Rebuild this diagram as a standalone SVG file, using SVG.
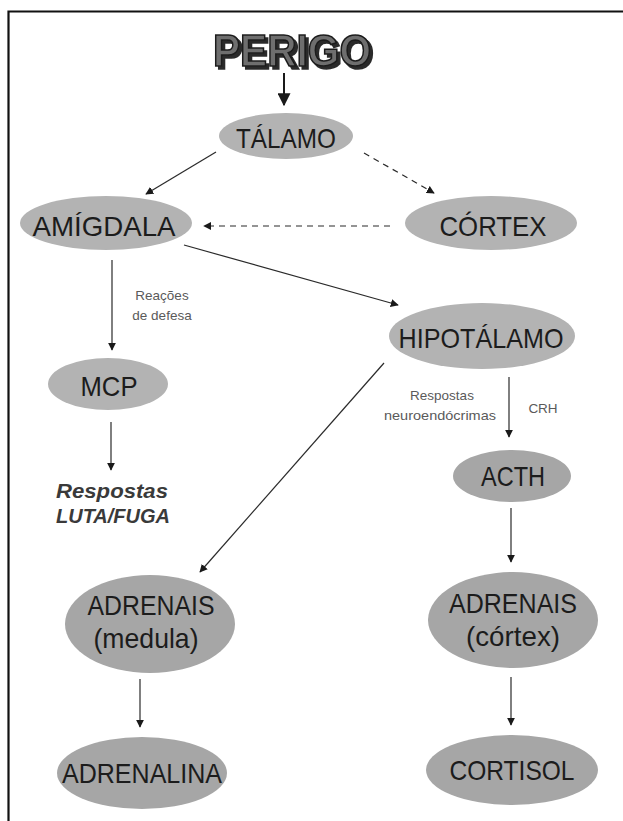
<svg xmlns="http://www.w3.org/2000/svg" width="623" height="821" viewBox="0 0 623 821">
<defs>
<style>
.n1{fill:#b3b3b3;}
.n2{fill:#a6a6a6;}
.lbl{font-family:"Liberation Sans",Arial,sans-serif;font-size:28px;fill:#1c1c1c;text-anchor:middle;}
.sm{font-family:"Liberation Sans",Arial,sans-serif;font-size:13.5px;fill:#5a5a5a;text-anchor:middle;}
.lf{font-family:"Liberation Sans",Arial,sans-serif;font-size:21px;font-weight:bold;font-style:italic;fill:#3a3a3a;}
.c{stroke:#2a2a2a;stroke-width:1.2;fill:none;marker-end:url(#ah);}
.d{stroke-dasharray:6 5;}
</style>
<marker id="ah" viewBox="0 0 10 10" refX="9" refY="5" markerWidth="8" markerHeight="8" markerUnits="userSpaceOnUse" orient="auto">
<path d="M0,0 L10,5 L0,10 z" fill="#1a1a1a"/>
</marker>
<marker id="ahb" viewBox="0 0 10 10" refX="9" refY="5" markerWidth="13" markerHeight="13" markerUnits="userSpaceOnUse" orient="auto">
<path d="M0,0 L10,5 L0,10 z" fill="#1a1a1a"/>
</marker>
<filter id="sh" x="-10%" y="-20%" width="120%" height="140%">
<feOffset in="SourceAlpha" dx="2.5" dy="2.5" result="o"/>
<feFlood flood-color="#2a2a2a"/>
<feComposite in2="o" operator="in" result="s"/>
<feMerge><feMergeNode in="s"/><feMergeNode in="SourceGraphic"/></feMerge>
</filter>
</defs>
<rect width="623" height="821" fill="#ffffff"/>
<path d="M8.5,821 L8.5,11.5 L623,11.5" fill="none" stroke="#111" stroke-width="2.2"/>

<g id="perigo">
<text x="292" y="66" font-family="'Liberation Sans',Arial,sans-serif" font-size="44" font-weight="bold" text-anchor="middle" textLength="158" lengthAdjust="spacingAndGlyphs" fill="#6e6e6e" stroke="#1a1a1a" stroke-width="1.6" filter="url(#sh)">PERIGO</text>
</g>

<g id="connectors">
<line x1="284" y1="73" x2="284" y2="105" stroke="#1a1a1a" stroke-width="2" marker-end="url(#ahb)"/>
<line class="c" x1="216" y1="152" x2="146" y2="194"/>
<line class="c d" x1="364" y1="153" x2="434" y2="193"/>
<line class="c d" x1="390" y1="226" x2="204" y2="226"/>
<line class="c" x1="184" y1="245" x2="398" y2="305"/>
<line class="c" x1="112" y1="260" x2="112" y2="350"/>
<line class="c" x1="111" y1="422" x2="111" y2="470"/>
<line class="c" x1="384" y1="363" x2="200" y2="572"/>
<line class="c" x1="509" y1="377" x2="509" y2="437"/>
<line class="c" x1="511" y1="508" x2="511" y2="562"/>
<line class="c" x1="140" y1="679" x2="140" y2="727"/>
<line class="c" x1="511" y1="677" x2="511" y2="725"/>
<text class="sm" x="162" y="300">Reações</text>
<text class="sm" x="162" y="320">de defesa</text>
<text class="sm" x="442" y="400">Respostas</text>
<text class="sm" x="440" y="420" textLength="112" lengthAdjust="spacingAndGlyphs">neuroendócrimas</text>
<text class="sm" x="543" y="413">CRH</text>
</g>

<g id="talamo">
<ellipse class="n1" cx="286" cy="136" rx="67" ry="23"/>
<text class="lbl" x="286" y="148" textLength="100" lengthAdjust="spacingAndGlyphs">TÁLAMO</text>
</g>
<g id="amigdala">
<ellipse class="n1" cx="106" cy="223" rx="86" ry="27"/>
<text class="lbl" x="104" y="236" textLength="143" lengthAdjust="spacingAndGlyphs">AMÍGDALA</text>
</g>
<g id="cortex">
<ellipse class="n1" cx="491" cy="223" rx="86" ry="27"/>
<text class="lbl" x="493" y="236" textLength="107" lengthAdjust="spacingAndGlyphs">CÓRTEX</text>
</g>
<g id="hipotalamo">
<ellipse class="n1" cx="482" cy="336" rx="93" ry="33"/>
<text class="lbl" x="481" y="348" textLength="165" lengthAdjust="spacingAndGlyphs">HIPOTÁLAMO</text>
</g>
<g id="mcp">
<ellipse class="n1" cx="108" cy="384" rx="60" ry="26"/>
<text class="lbl" x="109" y="396" textLength="57" lengthAdjust="spacingAndGlyphs">MCP</text>
</g>
<g id="respostas-luta-fuga">
<text class="lf" x="56" y="498" textLength="112" lengthAdjust="spacingAndGlyphs">Respostas</text>
<text class="lf" x="56" y="523" textLength="114" lengthAdjust="spacingAndGlyphs">LUTA/FUGA</text>
</g>
<g id="acth">
<ellipse class="n2" cx="512" cy="476" rx="59" ry="26"/>
<text class="lbl" x="513" y="486" textLength="64" lengthAdjust="spacingAndGlyphs">ACTH</text>
</g>
<g id="adrenais-medula">
<ellipse class="n2" cx="150" cy="624" rx="85" ry="49"/>
<text class="lbl" x="151" y="615" textLength="127" lengthAdjust="spacingAndGlyphs">ADRENAIS</text>
<text class="lbl" x="146" y="648" textLength="105" lengthAdjust="spacingAndGlyphs">(medula)</text>
</g>
<g id="adrenais-cortex">
<ellipse class="n2" cx="513" cy="620" rx="85" ry="48"/>
<text class="lbl" x="513" y="613" textLength="128" lengthAdjust="spacingAndGlyphs">ADRENAIS</text>
<text class="lbl" x="513" y="646" textLength="94" lengthAdjust="spacingAndGlyphs">(córtex)</text>
</g>
<g id="adrenalina">
<ellipse class="n2" cx="142" cy="773" rx="85" ry="36"/>
<text class="lbl" x="142" y="783" textLength="160" lengthAdjust="spacingAndGlyphs">ADRENALINA</text>
</g>
<g id="cortisol">
<ellipse class="n2" cx="512" cy="770" rx="86" ry="35"/>
<text class="lbl" x="512" y="780" textLength="125" lengthAdjust="spacingAndGlyphs">CORTISOL</text>
</g>
</svg>
